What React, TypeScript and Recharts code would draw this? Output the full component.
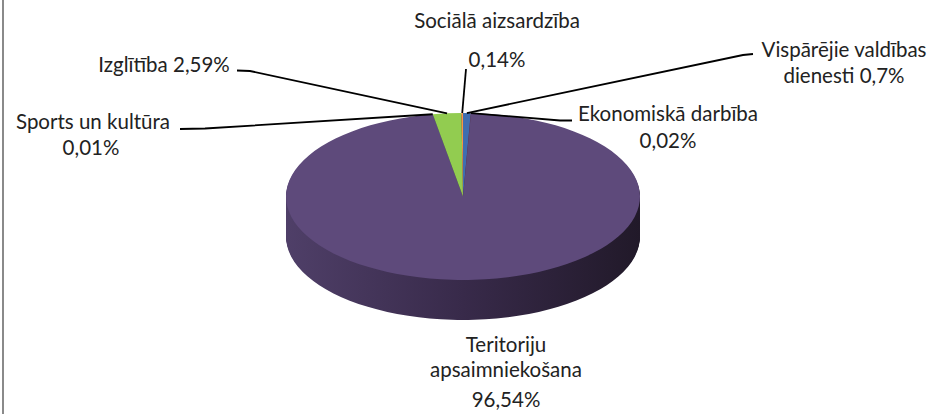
import { PieChart, Pie, Cell } from "recharts";

// clockwise from 12 o'clock, as Excel draws it
const categories = [
  "Vispārējie valdības dienesti",
  "Ekonomiskā darbība",
  "Teritoriju apsaimniekošana",
  "Sports un kultūra",
  "Izglītība",
  "Sociālā aizsardzība",
];
const shares = [0.7, 0.02, 96.54, 0.01, 2.59, 0.14];
const shareLabels = ["0,7%", "0,02%", "96,54%", "0,01%", "2,59%", "0,14%"];
const colors = ["#3F6EB0", "#BE4B48", "#5E4A7B", "#4BACC6", "#92CC50", "#F79646"];

const data = categories.map((name, i) => ({ name, value: shares[i] }));

// fake 3D: pie is squashed into an ellipse and extruded downwards
const PIE = { cx: 463, cy: 196.5, r: 177, k: 83.5 / 177, depth: 40 };
const depthSteps = Array.from({ length: PIE.depth }, (_, i) => PIE.depth - i);

const squash = (dy: number) =>
  `translate(0px, ${PIE.cy + dy}px) scale(1, ${PIE.k}) translate(0px, ${-PIE.cy}px)`;

// only the outer pie layer gets the transform (className is passed down to sectors too)
const css =
  "body{margin:0}" +
  `g.recharts-pie.pie-top{transform:${squash(0)}}` +
  depthSteps.map((d) => `g.recharts-pie.pie-d${d}{transform:${squash(d)}}`).join("");

type Row = [string, number, number];
const labelLayout: Record<string, { path: number[][]; rows: Row[] }> = {
  "Vispārējie valdības dienesti": {
    path: [[743, 55], [753, 54]],
    rows: [["Vispārējie valdības", 844, 57], ["dienesti {p}", 844, 83]],
  },
  "Ekonomiskā darbība": {
    path: [[560, 120.5], [572, 120.5]],
    rows: [["Ekonomiskā darbība", 668, 121], ["{p}", 668, 148]],
  },
  "Teritoriju apsaimniekošana": {
    path: [],
    rows: [["Teritoriju", 506, 352], ["apsaimniekošana", 506, 377], ["{p}", 506, 407]],
  },
  "Sports un kultūra": {
    path: [[205, 128.5], [180, 129]],
    rows: [["Sports un kultūra", 93, 129], ["{p}", 91, 155]],
  },
  "Izglītība": {
    path: [[250, 71], [237, 70.5]],
    rows: [["Izglītība {p}", 164, 72]],
  },
  "Sociālā aizsardzība": {
    path: [[466, 69]],
    rows: [["Sociālā aizsardzība", 497, 28], ["{p}", 497, 67]],
  },
};

const renderLabel = (props: any) => {
  const { cx, cy, midAngle, outerRadius, index } = props;
  const layout = labelLayout[categories[index]];
  const rad = (midAngle * Math.PI) / 180;
  const sx = cx + outerRadius * Math.cos(rad);
  const sy = cy - outerRadius * PIE.k * Math.sin(rad);
  const pts = [[sx, sy], ...layout.path].map((p) => p.join(",")).join(" ");
  return (
    <g key={`lbl-${index}`}>
      {layout.path.length > 0 && (
        <polyline points={pts} fill="none" stroke="#000" strokeWidth={1.8} />
      )}
      {layout.rows.map(([t, x, y], j) => (
        <text
          key={j}
          x={x}
          y={y}
          textAnchor="middle"
          fill="#222"
          fontSize={20.5}
          fontFamily="Lato, 'Noto Sans', sans-serif"
        >
          {t.replace("{p}", shareLabels[index])}
        </text>
      ))}
    </g>
  );
};

export default function App() {
  return (
    <div style={{ position: "relative", width: 935, height: 414, background: "#fff" }}>
      <style>{css}</style>
      <div
        style={{
          position: "absolute",
          left: 2,
          top: 0,
          width: 2,
          height: 414,
          background: "#8a8a8a",
        }}
      />
      <PieChart width={935} height={414} margin={{ top: 0, right: 0, bottom: 0, left: 0 }}>
        <defs>
          <linearGradient
            id="side"
            gradientUnits="userSpaceOnUse"
            x1={PIE.cx - PIE.r}
            y1={0}
            x2={PIE.cx + PIE.r}
            y2={0}
          >
            <stop offset="0%" stopColor="#4F3F68" />
            <stop offset="50%" stopColor="#382A4A" />
            <stop offset="100%" stopColor="#211929" />
          </linearGradient>
        </defs>
        {depthSteps.map((d) => (
          <Pie
            key={d}
            className={`pie-d${d}`}
            data={data}
            dataKey="value"
            nameKey="name"
            cx={PIE.cx}
            cy={PIE.cy}
            outerRadius={PIE.r}
            startAngle={90}
            endAngle={-270}
            fill="url(#side)"
            stroke="none"
            label={false}
            labelLine={false}
            isAnimationActive={false}
          />
        ))}
        <Pie
          className="pie-top"
          data={data}
          dataKey="value"
          nameKey="name"
          cx={PIE.cx}
          cy={PIE.cy}
          outerRadius={PIE.r}
          startAngle={90}
          endAngle={-270}
          stroke="none"
          label={false}
          labelLine={false}
          isAnimationActive={false}
        >
          {data.map((d, i) => (
            <Cell key={d.name} fill={colors[i]} />
          ))}
        </Pie>
        <Pie
          data={data}
          dataKey="value"
          nameKey="name"
          cx={PIE.cx}
          cy={PIE.cy}
          outerRadius={PIE.r}
          startAngle={90}
          endAngle={-270}
          fill="none"
          stroke="none"
          label={renderLabel}
          labelLine={false}
          isAnimationActive={false}
        />
      </PieChart>
    </div>
  );
}
